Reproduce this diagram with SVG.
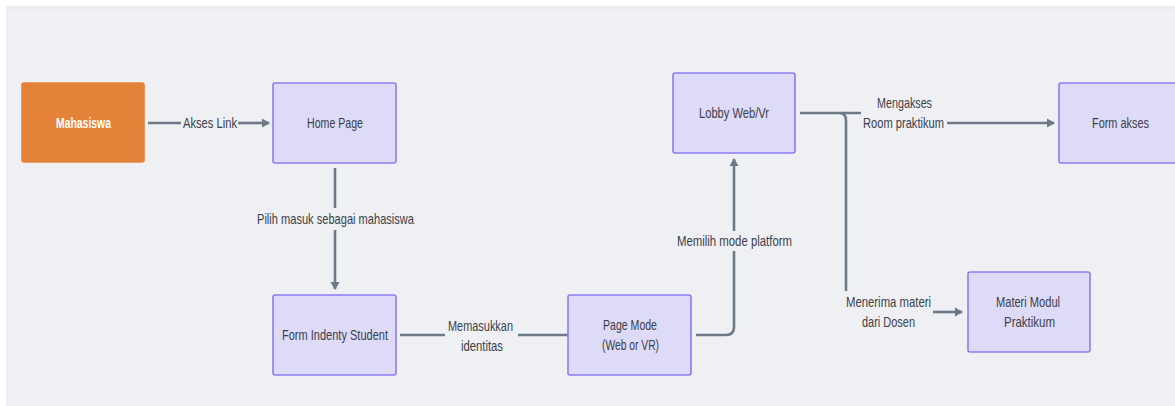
<svg xmlns="http://www.w3.org/2000/svg" width="1175" height="406" viewBox="0 0 1175 406">
<defs>
<style>
.bg{fill:#eff0f4}
.node rect{fill:#dedbf8;stroke:#8b7df4;stroke-width:1.6}
.node text,.lbl{font-family:"Liberation Sans",Arial,sans-serif;font-size:14.5px;fill:#3b404b;text-anchor:middle;dominant-baseline:central}
.orange rect{fill:#e5823a;stroke:#e5823a}
.orange text{fill:#ffffff;font-weight:bold}
.edge{fill:none;stroke:#6d7986;stroke-width:2.6}
</style>
<marker id="arr" markerWidth="9" markerHeight="10" refX="7" refY="5" orient="auto" markerUnits="userSpaceOnUse">
<path d="M0,0.5 L8,5 L0,9.5 z" fill="#6d7986"/>
</marker>
</defs>
<rect x="0" y="0" width="1175" height="406" fill="#ffffff"/>
<rect class="bg" x="6" y="6" width="1169" height="400"/>
<rect x="6" y="6" width="1169" height="3" fill="#e8ebf0"/>

<g id="connectors">
<path class="edge" d="M148,123 H181"/>
<path class="edge" d="M238,123 H269" marker-end="url(#arr)"/>
<text class="lbl" x="210" y="123" textLength="54" lengthAdjust="spacingAndGlyphs">Akses Link</text>

<path class="edge" d="M335,168 V208"/>
<path class="edge" d="M335,230 V289" marker-end="url(#arr)"/>
<text class="lbl" x="335.5" y="219" textLength="157" lengthAdjust="spacingAndGlyphs">Pilih masuk sebagai mahasiswa</text>

<path class="edge" d="M400,335 H445"/>
<path class="edge" d="M518,335 H568"/>
<text class="lbl" x="480.5" y="326" textLength="65" lengthAdjust="spacingAndGlyphs">Memasukkan</text>
<text class="lbl" x="482" y="346" textLength="42" lengthAdjust="spacingAndGlyphs">identitas</text>

<path class="edge" d="M696,335 H726 Q734,335 734,327 V251"/>
<path class="edge" d="M734,231 V159" marker-end="url(#arr)"/>
<text class="lbl" x="734.5" y="241" textLength="115" lengthAdjust="spacingAndGlyphs">Memilih mode platform</text>

<path class="edge" d="M800,113 H861"/>
<path class="edge" d="M947,123 H1054" marker-end="url(#arr)"/>
<text class="lbl" x="904.5" y="103" textLength="55" lengthAdjust="spacingAndGlyphs">Mengakses</text>
<text class="lbl" x="903.5" y="123" textLength="81" lengthAdjust="spacingAndGlyphs">Room praktikum</text>

<path class="edge" d="M840,113 Q846,113 846,121 V291"/>
<path class="edge" d="M933,312 H962" marker-end="url(#arr)"/>
<text class="lbl" x="888.5" y="302" textLength="85" lengthAdjust="spacingAndGlyphs">Menerima materi</text>
<text class="lbl" x="888.5" y="322" textLength="53" lengthAdjust="spacingAndGlyphs">dari Dosen</text>
</g>

<g id="mahasiswa" class="node orange">
<rect x="22" y="83" width="122" height="79" rx="2"/>
<text x="83.5" y="123" textLength="55" lengthAdjust="spacingAndGlyphs">Mahasiswa</text>
</g>
<g id="home-page" class="node">
<rect x="273" y="83" width="123" height="80" rx="2"/>
<text x="335" y="123" textLength="56" lengthAdjust="spacingAndGlyphs">Home Page</text>
</g>
<g id="form-indenty-student" class="node">
<rect x="273" y="295" width="123" height="80" rx="2"/>
<text x="335" y="335" textLength="106" lengthAdjust="spacingAndGlyphs">Form Indenty Student</text>
</g>
<g id="page-mode" class="node">
<rect x="568" y="295" width="123" height="80" rx="2"/>
<text x="630" y="325" textLength="54" lengthAdjust="spacingAndGlyphs">Page Mode</text>
<text x="630.5" y="345" textLength="57" lengthAdjust="spacingAndGlyphs">(Web or VR)</text>
</g>
<g id="lobby" class="node">
<rect x="673" y="73" width="122" height="80" rx="2"/>
<text x="734" y="113" textLength="70" lengthAdjust="spacingAndGlyphs">Lobby Web/Vr</text>
</g>
<g id="form-akses" class="node">
<rect x="1059" y="83" width="124" height="80" rx="2"/>
<text x="1120.5" y="123" textLength="57" lengthAdjust="spacingAndGlyphs">Form akses</text>
</g>
<g id="materi-modul" class="node">
<rect x="968" y="272" width="122" height="80" rx="2"/>
<text x="1028" y="302" textLength="64" lengthAdjust="spacingAndGlyphs">Materi Modul</text>
<text x="1029.5" y="322" textLength="51" lengthAdjust="spacingAndGlyphs">Praktikum</text>
</g>
</svg>
